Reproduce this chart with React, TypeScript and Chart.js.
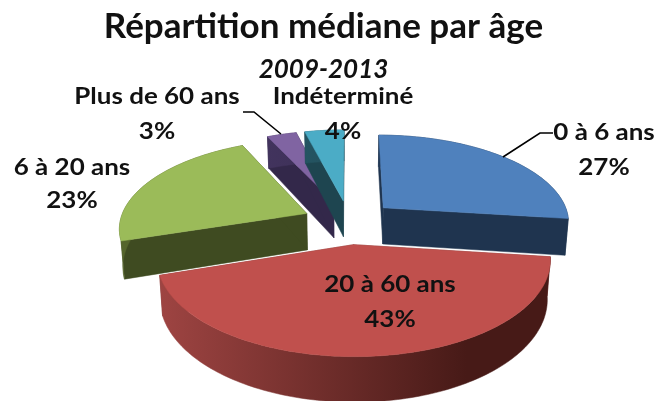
import React, { useEffect, useRef } from "react";
import { Chart, registerables } from "chart.js";

Chart.register(...registerables);

const categories = ["0 à 6 ans", "20 à 60 ans", "6 à 20 ans", "Plus de 60 ans", "Indéterminé"];
const shares = [27, 43, 23, 3, 4];
const topColors = ["#4f81bd", "#c0504d", "#9bbb59", "#8064a2", "#4bacc6"];
const wallColors = ["#1f344f", "#7a302e", "#3f4b21", "#33284a", "#1e4550"];
const rimLeft = ["#2a4565", "#a04543", "#55652c", "#4a3a68", "#2a6272"];
const rimRight = ["#1f344f", "#471a17", "#3f4b21", "#33284a", "#1e4550"];
const paintOrder = [1, 3, 4, 2, 0];
const labelFont = "bold 22px Lato";
const labelStretch = 1.18;
const labelSpots: [number, number, number, number][] = [
  [604, 133, 604, 168],
  [390, 285, 390, 320],
  [72, 168, 72, 201],
  [157, 97, 157, 132],
  [343, 97, 343, 132],
];
const leaders: ([number, number][] | null)[] = [
  [[553, 133], [540, 133], [503, 157]],
  null,
  null,
  [[243, 112], [254, 112], [281, 134]],
  null,
];

const CX = 349, CY = 222, A = 187, B = 87.6, K = 0.15, EXPLODE = 0.25, DEPTH = 37, SHRINK = 0.985;

function project(u: number, v: number, down: boolean): [number, number] {
  const s = 1 / (1 - K * v);
  const x = A * u * s, y = B * v * s;
  return down ? [CX + x * SHRINK, CY + y + DEPTH * s] : [CX + x, CY + y];
}

const pie3d = {
  id: "pie3d",
  beforeDatasetDraw(chart: any) {
    const ctx = chart.ctx as CanvasRenderingContext2D;
    const arcs = chart.getDatasetMeta(0).data;
    const STEP = 0.02;
    for (const i of paintOrder) {
      const { startAngle: a0, endAngle: a1 } = arcs[i];
      const mid = (a0 + a1) / 2;
      const ou = EXPLODE * Math.cos(mid), ov = EXPLODE * Math.sin(mid);
      const n = Math.max(2, Math.ceil((a1 - a0) / STEP));
      const rim: [number, number][] = [];
      for (let j = 0; j <= n; j++) {
        const a = a0 + ((a1 - a0) * j) / n;
        rim.push([ou + Math.cos(a), ov + Math.sin(a)]);
      }
      const poly = (pts: [number, number][], fill: any) => {
        ctx.beginPath();
        pts.forEach((p, k) => (k ? ctx.lineTo(p[0], p[1]) : ctx.moveTo(p[0], p[1])));
        ctx.closePath();
        ctx.fillStyle = fill;
        ctx.strokeStyle = fill;
        ctx.lineWidth = 0.5;
        ctx.fill();
        ctx.stroke();
      };
      const grad = ctx.createLinearGradient(CX - A * 1.05, 0, CX + A * 1.05, 0);
      grad.addColorStop(0, rimLeft[i]);
      grad.addColorStop(0.8, rimRight[i]);
      grad.addColorStop(1, rimRight[i]);
      const first = rim[0], last = rim[n];
      poly([project(ou, ov, false), project(first[0], first[1], false), project(first[0], first[1], true), project(ou, ov, true)], wallColors[i]);
      poly([project(ou, ov, false), project(last[0], last[1], false), project(last[0], last[1], true), project(ou, ov, true)], wallColors[i]);
      poly(
        [...rim.map((p) => project(p[0], p[1], false)), ...rim.slice().reverse().map((p) => project(p[0], p[1], true))],
        grad
      );
      poly([project(ou, ov, false), ...rim.map((p) => project(p[0], p[1], false))], topColors[i]);
    }
    return false;
  },
  afterDatasetsDraw(chart: any) {
    const ctx = chart.ctx as CanvasRenderingContext2D;
    ctx.save();
    ctx.strokeStyle = "#000";
    ctx.lineWidth = 1.6;
    for (const l of leaders) {
      if (!l) continue;
      ctx.beginPath();
      l.forEach((p, k) => (k ? ctx.lineTo(p[0], p[1]) : ctx.moveTo(p[0], p[1])));
      ctx.stroke();
    }
    ctx.fillStyle = "#111";
    ctx.font = labelFont;
    ctx.textAlign = "center";
    ctx.textBaseline = "middle";
    const put = (t: string, x: number, y: number) => {
      ctx.save();
      ctx.translate(x, y);
      ctx.scale(labelStretch, 1);
      ctx.fillText(t, 0, 0);
      ctx.restore();
    };
    categories.forEach((c, i) => {
      const [x1, y1, x2, y2] = labelSpots[i];
      put(c, x1, y1);
      put(shares[i] + "%", x2, y2);
    });
    ctx.restore();
  },
};

export default function App() {
  const ref = useRef<HTMLCanvasElement>(null);
  useEffect(() => {
    const chart = new Chart(ref.current!, {
      type: "pie",
      data: { labels: categories, datasets: [{ data: shares, backgroundColor: topColors }] },
      options: {
        animation: false,
        responsive: false,
        layout: { padding: { right: 11 } },
        plugins: {
          legend: { display: false },
          tooltip: { enabled: false },
          title: {
            display: true,
            text: "Répartition médiane par âge",
            color: "#111",
            font: { family: "Lato", size: 35, weight: "bold" },
            padding: { top: 6, bottom: 4 },
          },
          subtitle: {
            display: true,
            text: "2009-2013",
            color: "#111",
            font: { family: "Lato", size: 26, weight: "bold", style: "italic" },
            padding: { top: 2, bottom: 4 },
          },
        },
      },
      plugins: [pie3d],
    } as any);
    return () => chart.destroy();
  }, []);
  return (
    <div style={{ position: "absolute", left: 0, top: 0, width: 658, height: 401, background: "#fff" }}>
      <canvas ref={ref} width={658} height={401} style={{ display: "block" }} />
    </div>
  );
}
